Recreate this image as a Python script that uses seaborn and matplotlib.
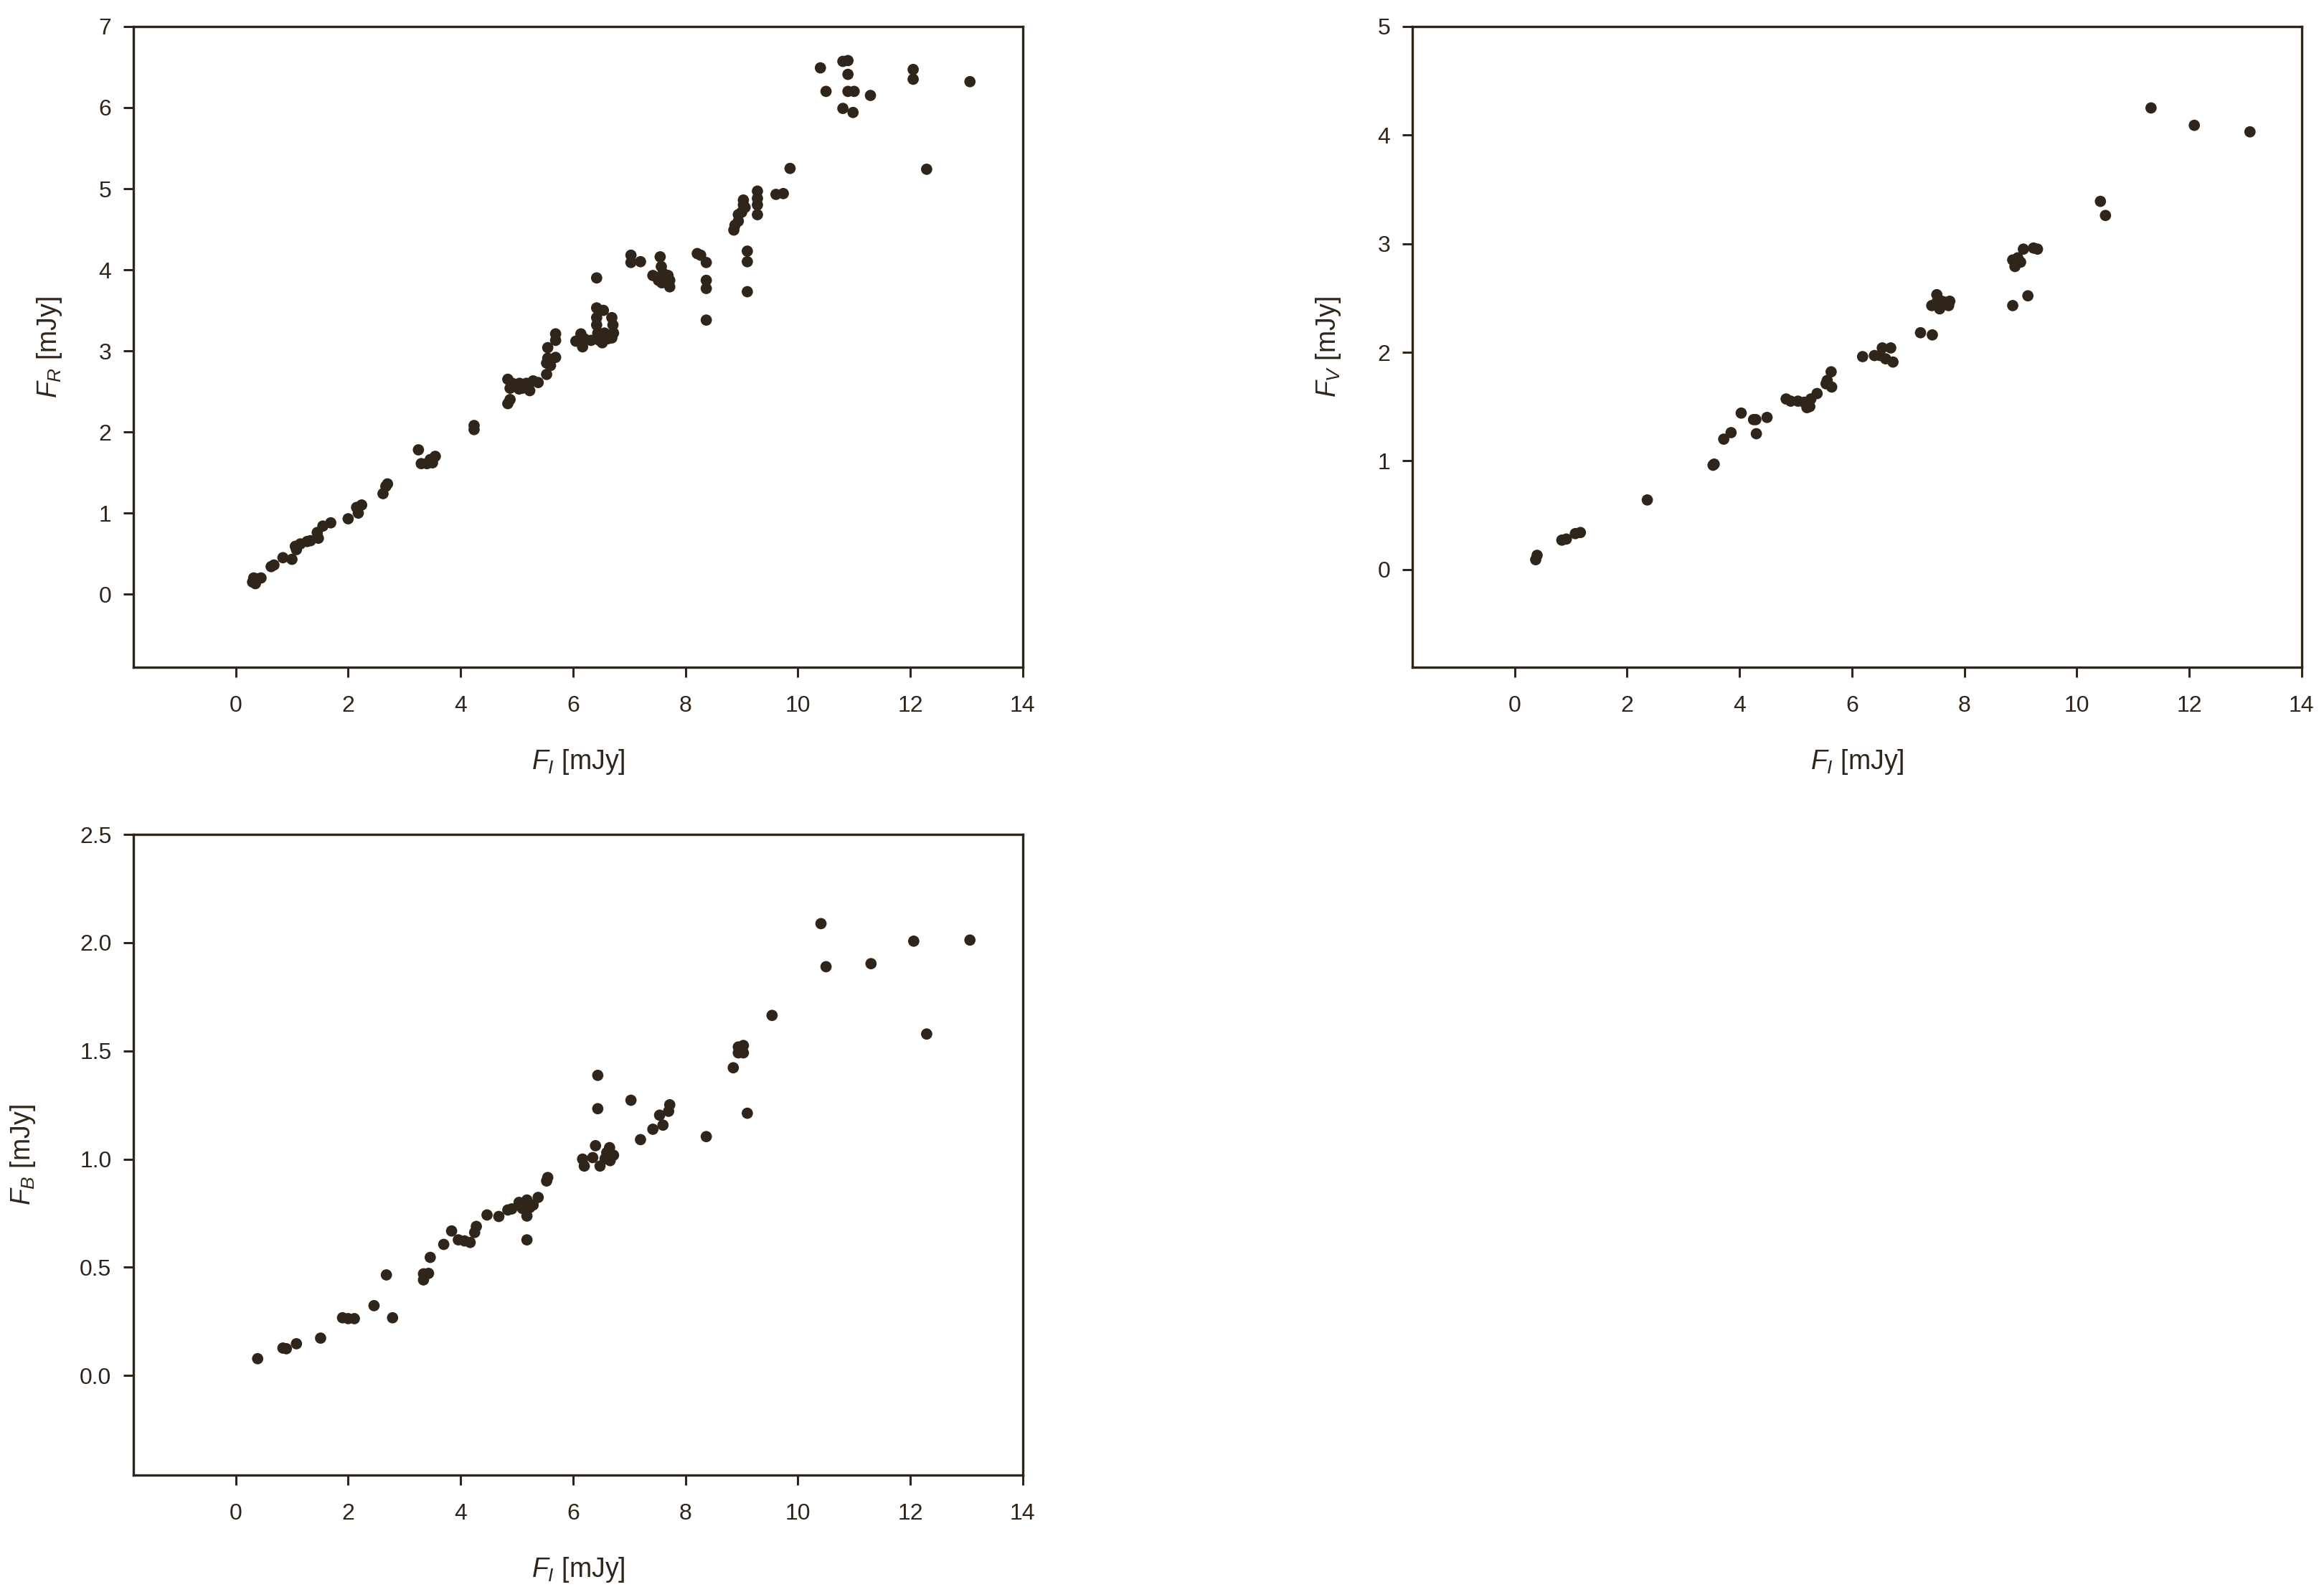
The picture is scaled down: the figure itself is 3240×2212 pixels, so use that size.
import matplotlib
matplotlib.use("Agg")
import matplotlib.pyplot as plt
import matplotlib.ticker as mticker
import numpy as np
import pandas as pd
import seaborn as sns

# ── Data ──────────────────────────────────────────────────────────────────────
# F_I vs F_R
fi_r = [0.30, 0.32, 0.35, 0.38, 0.45, 0.63, 0.68, 0.84, 1.00, 1.06, 1.08, 1.15,
        1.27, 1.33, 1.45, 1.47, 1.55, 1.69, 2.00, 2.15, 2.18, 2.24, 2.62, 2.67,
        2.70, 3.25, 3.30, 3.40, 3.46, 3.50, 3.55, 4.24, 4.24, 4.84, 4.88, 4.84,
        4.88, 4.92, 5.04, 5.05, 5.10, 5.17, 5.23, 5.29, 5.38, 5.53, 5.53, 5.55,
        5.55, 5.60, 5.69, 5.69, 5.69, 6.05, 6.14, 6.17, 6.20, 6.32, 6.42, 6.42,
        6.42, 6.42, 6.44, 6.47, 6.52, 6.54, 6.56, 6.62, 6.69, 6.69, 6.71, 6.72,
        7.03, 7.03, 7.20, 7.42, 7.52, 7.55, 7.57, 7.58, 7.60, 7.69, 7.72, 7.72,
        8.21, 8.27, 8.37, 8.37, 8.37, 8.37, 8.86, 8.88, 8.94, 8.94, 9.00, 9.03,
        9.03, 9.06, 9.10, 9.10, 9.10, 9.28, 9.28, 9.28, 9.28, 9.61, 9.74, 9.86,
        10.40, 10.50, 10.80, 10.89, 10.89, 10.80, 10.89, 11.00, 10.98, 11.29,
        12.05, 12.05, 12.29, 13.06]
fr = [0.15, 0.20, 0.13, 0.19, 0.20, 0.34, 0.36, 0.45, 0.43, 0.59, 0.55, 0.62,
      0.65, 0.66, 0.76, 0.69, 0.84, 0.88, 0.93, 1.07, 1.00, 1.10, 1.24, 1.33,
      1.36, 1.78, 1.61, 1.61, 1.66, 1.62, 1.70, 2.08, 2.03, 2.35, 2.40, 2.65,
      2.54, 2.60, 2.53, 2.60, 2.54, 2.60, 2.51, 2.63, 2.61, 2.71, 2.85, 2.91,
      3.04, 2.82, 2.92, 3.13, 3.21, 3.12, 3.21, 3.05, 3.15, 3.13, 3.90, 3.53,
      3.41, 3.32, 3.22, 3.13, 3.10, 3.50, 3.22, 3.15, 3.41, 3.16, 3.32, 3.22,
      4.18, 4.09, 4.10, 3.93, 3.87, 4.16, 4.04, 3.84, 3.96, 3.93, 3.79, 3.87,
      4.20, 4.18, 4.09, 3.87, 3.77, 3.38, 4.49, 4.55, 4.60, 4.68, 4.71, 4.80,
      4.86, 4.77, 4.23, 4.10, 3.73, 4.97, 4.88, 4.80, 4.68, 4.93, 4.94, 5.25,
      6.49, 6.20, 6.57, 6.58, 6.41, 5.99, 6.20, 6.20, 5.94, 6.15,
      6.47, 6.35, 5.24, 6.32]

# F_I vs F_V
fi_v = [0.375, 0.40, 0.84, 0.92, 1.08, 1.17, 2.36, 3.53, 3.55, 3.72, 3.85,
        4.03, 4.25, 4.29, 4.30, 4.49, 4.83, 4.91, 5.04, 5.15, 5.20, 5.25, 5.27,
        5.38, 5.54, 5.56, 5.63, 5.64, 6.19, 6.40, 6.50, 6.54, 6.60, 6.69, 6.73,
        7.22, 7.43, 7.42, 7.51, 7.51, 7.56, 7.60, 7.67, 7.72, 7.74, 8.86, 9.13,
        8.86, 8.90, 8.92, 8.95, 9.00, 9.05, 9.23, 9.30, 10.42, 10.51, 11.32,
        12.09, 13.08]
fv = [0.09, 0.13, 0.27, 0.28, 0.33, 0.34, 0.64, 0.96, 0.97, 1.20, 1.26,
      1.44, 1.38, 1.38, 1.25, 1.40, 1.57, 1.55, 1.55, 1.54, 1.49, 1.50, 1.57,
      1.62, 1.71, 1.74, 1.82, 1.68, 1.96, 1.97, 1.97, 2.04, 1.94, 2.04, 1.91,
      2.18, 2.16, 2.43, 2.53, 2.46, 2.40, 2.47, 2.46, 2.43, 2.47, 2.43, 2.52,
      2.85, 2.79, 2.82, 2.87, 2.83, 2.95, 2.96, 2.95, 3.39, 3.26, 4.25,
      4.09, 4.03]

# F_I vs F_B
fi_b = [0.39, 0.84, 0.90, 1.08, 1.51, 1.90, 2.00, 2.11, 2.46, 2.68, 2.79,
        3.34, 3.34, 3.43, 3.46, 3.70, 3.84, 3.96, 4.07, 4.17, 4.25, 4.28, 4.47,
        4.68, 4.84, 4.91, 5.04, 5.10, 5.18, 5.18, 5.23, 5.29, 5.38, 5.18, 5.53,
        5.55, 6.17, 6.20, 6.35, 6.40, 6.44, 6.44, 6.48, 6.57, 6.60, 6.65, 6.66,
        6.72, 7.03, 7.20, 7.42, 7.54, 7.60, 7.70, 7.72, 8.37, 8.85, 8.94, 8.94,
        9.03, 9.03, 9.10, 9.54, 10.41, 10.50, 11.30, 12.06, 12.29, 13.06]
fb = [0.078, 0.127, 0.124, 0.147, 0.173, 0.267, 0.263, 0.263, 0.323, 0.465, 0.267,
      0.442, 0.470, 0.472, 0.546, 0.606, 0.668, 0.627, 0.622, 0.615, 0.661, 0.689, 0.742,
      0.735, 0.765, 0.770, 0.800, 0.772, 0.811, 0.737, 0.776, 0.788, 0.823, 0.627, 0.899,
      0.915, 1.000, 0.968, 1.007, 1.062, 1.387, 1.233, 0.968, 1.002, 1.030, 1.053, 0.993,
      1.018, 1.272, 1.090, 1.138, 1.203, 1.157, 1.221, 1.251, 1.104, 1.422, 1.518, 1.491,
      1.525, 1.491, 1.212, 1.664, 2.088, 1.889, 1.903, 2.007, 1.578, 2.012]

x_ticks = [0, 2, 4, 6, 8, 10, 12, 14]

# ── Style ─────────────────────────────────────────────────────────────────────
INK = "#2f251a"

sns.set_style("ticks")
plt.rcParams.update({
    "font.family": ["Liberation Sans Narrow", "Liberation Sans", "DejaVu Sans"],
    "mathtext.fontset": "custom",
    "mathtext.rm": "Liberation Sans",
    "mathtext.it": "Liberation Sans:italic",
    "text.color": INK,
    "axes.labelcolor": INK,
    "axes.edgecolor": INK,
    "xtick.color": INK,
    "ytick.color": INK,
})


def _panel(ax, x, y, ylabel, ylim, yticks, yfmt, ylab_x):
    df = pd.DataFrame({"fi": x, "f": y})
    sns.scatterplot(data=df, x="fi", y="f", ax=ax, s=32, color=INK,
                    edgecolor="none", linewidth=0)
    ax.set_xlim(-1.82, 14)
    ax.set_ylim(*ylim)
    ax.set_xticks(x_ticks)
    ax.set_yticks(yticks)
    ax.yaxis.set_major_formatter(mticker.FormatStrFormatter(yfmt))
    ax.tick_params(direction="out", length=5, width=1.1, labelsize=11.5,
                   colors=INK)
    ax.tick_params(axis="x", pad=9)
    ax.tick_params(axis="y", pad=6)
    for sp in ax.spines.values():
        sp.set_visible(True)
        sp.set_linewidth(1.2)
        sp.set_color(INK)
    ax.set_xlabel("$F_I$ [mJy]", fontsize=13.5, family="Liberation Sans")
    ax.set_ylabel(ylabel, fontsize=13.5, family="Liberation Sans")
    ax.xaxis.set_label_coords(0.5, -0.125)
    ax.yaxis.set_label_coords(ylab_x, 0.5)


fig = plt.figure(figsize=(16.2, 11.06), dpi=200)
ax_r = fig.add_axes([0.0574, 0.5796, 0.3827, 0.4037])
ax_v = fig.add_axes([0.6077, 0.5796, 0.3827, 0.4037])
ax_b = fig.add_axes([0.0574, 0.0705, 0.3827, 0.4037])

_panel(ax_r, fi_r, fr, "$F_R$ [mJy]", (-0.9, 7), np.arange(0, 8), "%d", -0.078)
_panel(ax_v, fi_v, fv, "$F_V$ [mJy]", (-0.9, 5), np.arange(0, 6), "%d", -0.078)
_panel(ax_b, fi_b, fb, "$F_B$ [mJy]", (-0.46, 2.5), np.arange(0, 2.6, 0.5), "%.1f", -0.108)

fig.savefig("out.png", dpi=200, facecolor="white")
